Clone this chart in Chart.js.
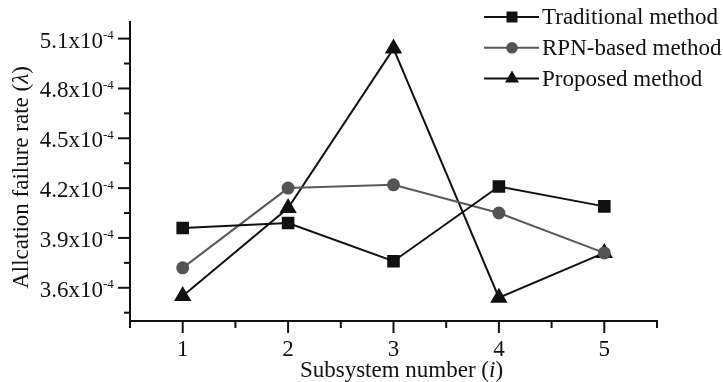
<!DOCTYPE html>
<html>
<head>
<meta charset="utf-8">
<script src="https://cdn.jsdelivr.net/npm/chart.js@4.4.1/dist/chart.umd.min.js"></script>
<style>
  html, body { margin: 0; padding: 0; background: #fff; }
  #wrap { width: 723px; height: 382px; }
</style>
</head>
<body>
<div id="wrap"><canvas id="chart"></canvas></div>
<script>
// values in units of 1e-4
const subsystems = [1, 2, 3, 4, 5];
const traditional = [3.96, 3.99, 3.76, 4.21, 4.09];
const rpnBased = [3.72, 4.20, 4.22, 4.05, 3.81];
const proposed = [3.55, 4.08, 5.04, 3.54, 3.81];

const seriesNames = ['Traditional method', 'RPN-based method', 'Proposed method'];
const yMajorTicks = [3.6, 3.9, 4.2, 4.5, 4.8, 5.1];
const yMinorTicks = [3.45, 3.75, 4.05, 4.35, 4.65, 4.95];
const xMajorTicks = [1, 2, 3, 4, 5];
const xMinorTicks = [0.5, 1.5, 2.5, 3.5, 4.5, 5.5];

const FONT = "'Liberation Serif', 'Times New Roman', serif";
const INK = '#111';

const toPoints = arr => arr.map((v, i) => ({ x: subsystems[i], y: v }));

// custom ticks, tick labels with superscript, axis titles and legend
const decorPlugin = {
  id: 'decor',
  afterDraw(chart) {
    const ctx = chart.ctx;
    const xs = chart.scales.x, ys = chart.scales.y;
    const ca = chart.chartArea;
    ctx.save();
    ctx.strokeStyle = INK;
    ctx.lineWidth = 2;
    // y ticks
    yMajorTicks.concat(yMinorTicks).forEach(v => {
      const len = yMajorTicks.includes(v) ? 12 : 6;
      const y = ys.getPixelForValue(v);
      ctx.beginPath(); ctx.moveTo(ca.left, y); ctx.lineTo(ca.left - len, y); ctx.stroke();
    });
    // x ticks
    xMajorTicks.concat(xMinorTicks).forEach(v => {
      const len = xMajorTicks.includes(v) ? 12 : 7;
      const x = xs.getPixelForValue(v);
      ctx.beginPath(); ctx.moveTo(x, ca.bottom); ctx.lineTo(x, ca.bottom + len); ctx.stroke();
    });

    ctx.fillStyle = INK;
    // y tick labels  e.g. 5.1x10^-4
    yMajorTicks.forEach(v => {
      const y = ys.getPixelForValue(v);
      const right = ca.left - 27;
      ctx.textAlign = 'left';
      ctx.textBaseline = 'middle';
      ctx.font = '23px ' + FONT;
      const base = v.toFixed(1) + 'x10';
      const bw = ctx.measureText(base).width;
      ctx.fillText(base, right - bw, y + 3);
      ctx.font = '13px ' + FONT;
      ctx.fillText('-4', right, y - 3);
    });

    // x axis title
    ctx.textBaseline = 'alphabetic';
    const xParts = [['Subsystem number (', ''], ['i', 'italic '], [')', '']];
    drawParts(ctx, xParts, (ca.left + ca.right) / 2 + 8, 377);

    // y axis title (rotated)
    ctx.save();
    ctx.translate(28, (ca.top + ca.bottom) / 2 + 6);
    ctx.rotate(-Math.PI / 2);
    drawParts(ctx, [['Allcation failure rate (', ''], ['\u03bb', 'italic '], [')', '']], 0, 0);
    ctx.restore();

    // legend
    chart.data.datasets.forEach((ds, i) => {
      const y = 17 + i * 30.8;
      const x0 = 484, x1 = 539, mx = 512;
      ctx.strokeStyle = ds.borderColor;
      ctx.lineWidth = 2;
      ctx.beginPath(); ctx.moveTo(x0, y); ctx.lineTo(x1, y); ctx.stroke();
      ctx.fillStyle = ds.pointBackgroundColor;
      drawMarker(ctx, ds.pointStyle, mx, y);
      ctx.fillStyle = INK;
      ctx.font = '23px ' + FONT;
      ctx.textAlign = 'left';
      ctx.textBaseline = 'middle';
      ctx.fillText(ds.label, 542, y + 1);
    });
    ctx.restore();
  }
};

function drawParts(ctx, parts, cx, y) {
  let total = 0;
  parts.forEach(p => { ctx.font = p[1] + '23px ' + FONT; total += ctx.measureText(p[0]).width; });
  let x = cx - total / 2;
  ctx.textAlign = 'left';
  parts.forEach(p => {
    ctx.font = p[1] + '23px ' + FONT;
    ctx.fillText(p[0], x, y);
    x += ctx.measureText(p[0]).width;
  });
}

function drawMarker(ctx, style, x, y) {
  ctx.beginPath();
  if (style === 'rect') {
    ctx.rect(x - 5.5, y - 5.5, 11, 11);
  } else if (style === 'circle') {
    ctx.arc(x, y, 5.8, 0, Math.PI * 2);
  } else {
    ctx.moveTo(x, y - 8); ctx.lineTo(x + 7, y + 4); ctx.lineTo(x - 7, y + 4); ctx.closePath();
  }
  ctx.fill();
}

new Chart(document.getElementById('chart'), {
  type: 'line',
  data: {
    datasets: [
      {
        label: seriesNames[0], data: toPoints(traditional),
        borderColor: '#111', pointBackgroundColor: '#111', pointBorderColor: '#111',
        pointStyle: 'rect', pointRadius: 7.5, borderWidth: 2
      },
      {
        label: seriesNames[1], data: toPoints(rpnBased),
        borderColor: '#5a5a5a', pointBackgroundColor: '#555', pointBorderColor: '#555',
        pointStyle: 'circle', pointRadius: 5.5, borderWidth: 2
      },
      {
        label: seriesNames[2], data: toPoints(proposed),
        borderColor: '#111', pointBackgroundColor: '#111', pointBorderColor: '#111',
        pointStyle: 'triangle', pointRadius: 8, borderWidth: 2
      }
    ]
  },
  options: {
    responsive: true,
    maintainAspectRatio: false,
    animation: false,
    layout: { padding: { left: 0, top: 22, right: 66, bottom: 0 } },
    plugins: { legend: { display: false }, tooltip: { enabled: false } },
    scales: {
      x: {
        type: 'linear', min: 0.5, max: 5.5,
        afterBuildTicks: s => { s.ticks = xMajorTicks.map(v => ({ value: v })); },
        afterFit: s => { s.height = 61; },
        grid: { display: true, drawOnChartArea: false, tickLength: 12, tickColor: 'rgba(0,0,0,0)' },
        border: { color: INK, width: 2 },
        ticks: { color: INK, font: { family: FONT, size: 23 }, padding: 3, callback: v => String(v) }
      },
      y: {
        min: 3.4, max: 5.2,
        afterBuildTicks: s => { s.ticks = yMajorTicks.map(v => ({ value: v })); },
        afterFit: s => { s.width = 130; },
        grid: { display: true, drawOnChartArea: false, tickLength: 12, tickColor: 'rgba(0,0,0,0)' },
        border: { color: INK, width: 2 },
        ticks: { display: false }
      }
    }
  },
  plugins: [decorPlugin]
});
</script>
</body>
</html>
